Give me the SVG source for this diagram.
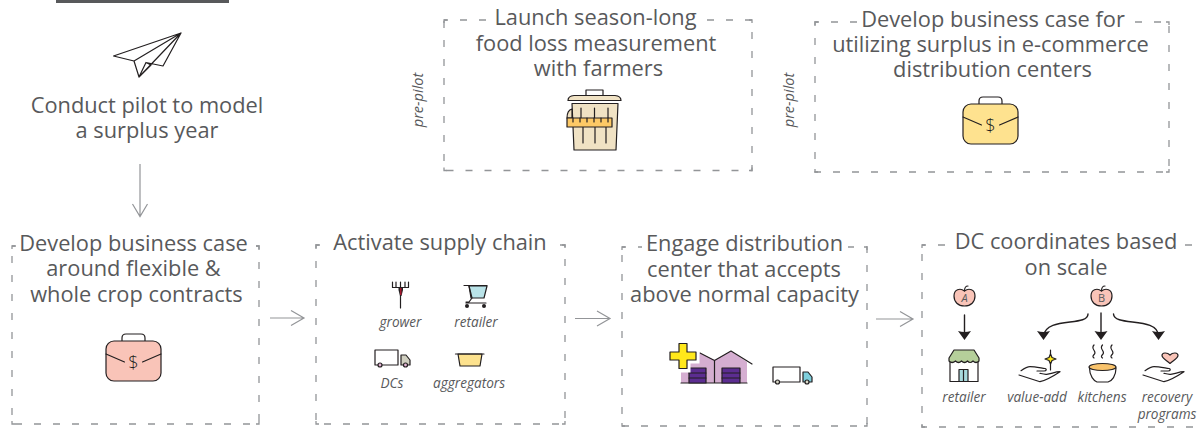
<svg xmlns="http://www.w3.org/2000/svg" width="1204" height="429" viewBox="0 0 1204 429">
<style>
text{font-family:"Open Sans","Noto Sans","DejaVu Sans",sans-serif;fill:#58595b}
.t{font-size:21.8px;text-anchor:middle}
.i{font-size:13.6px;font-style:italic;text-anchor:middle}
.p{font-size:14.5px;font-style:italic;text-anchor:middle}
.b{fill:none;stroke:#939598;stroke-width:1.3;stroke-dasharray:7 12;stroke-dashoffset:3}
.c{fill:none;stroke:#939598;stroke-width:1.3}
.m{fill:#fff}
.k{stroke:#231f20;stroke-width:1.2;stroke-linejoin:round;stroke-linecap:round}
.n{fill:none;stroke:#231f20;stroke-width:1.2;stroke-linejoin:round;stroke-linecap:round}
.g{fill:none;stroke:#939598;stroke-width:1.2}
.a{fill:none;stroke:#231f20;stroke-width:1.4;stroke-linecap:round}
.h{fill:#231f20}
</style>
<defs>
<g id="case">
<path class="n" d="M-11.500-18V-23Q-11.500-27-7.500-27H7.500Q11.500-27 11.500-23V-18"/>
<rect class="k" x="-27.500" y="-20" width="55" height="40" rx="8"/>
<path class="n" d="M-27.500-7L-9 1M27.500-7L9 1"/>
<text x="0" y="7.500" style="font-size:18px;font-weight:300;text-anchor:middle;fill:#231f20">$</text>
</g>
<g id="hand">
<path class="n" d="M2 6.700C6 4 9 2.700 11 2.700C16 2.700 22 4 26 4.500C28 5 27.500 7 25 7H18M0 11L21 17.700C28 16 36 11 41 7.700C36 7.700 32 10 27.700 10.300C25 10.500 23 9.800 21 9.300"/>
</g>
<g id="arrowh"><path class="h" d="M-6.500-6Q0-4 6.500-6L0 3Z"/></g>
</defs>

<rect id="top-bar" x="56" y="0" width="173" height="3" fill="#58595b"/>

<g id="pilot">
<path class="n" d="M113.500 56L181 33L163 66L146 62.500L139 77L134 61ZM134 61L181 33M139 77L181 33M146 62.500L151 65L139 77"/>
<text class="t" x="147" y="112.500">Conduct pilot to model</text>
<text class="t" x="147" y="137.500">a surplus year</text>
</g>

<g id="measure">
<rect class="b" x="444" y="20" width="308" height="150.500"/>
<path class="c" d="M444 23V20H447M749 20H752V23M752 167.500V170.500H749M447 170.500H444V167.500"/>
<rect class="m" x="488" y="8" width="219" height="18"/>
<text class="t" x="595.500" y="25">Launch season-long</text>
<text class="t" x="596" y="50.500">food loss measurement</text>
<text class="t" x="598.500" y="76">with farmers</text>
<g>
<rect class="k" x="586" y="90" width="17" height="6" fill="#fff"/>
<path class="k" fill="#f0e2c4" d="M568 100.500Q568 96 574 95.500H615Q621 96 621 100.500Z"/>
<path class="k" fill="#f0e2c4" d="M572 103.500H618L616 150H574Z"/>
<path class="n" d="M581 108V118M594.500 108V118M608 108V118M583 127V143M595 127V143M606 127V143"/>
<path class="k" fill="#f0e2c4" d="M572 109C568 110 567 113 567 118L572 118Z"/>
<rect class="k" x="567" y="118" width="45" height="9" fill="#fdc966" stroke-width="1"/>
<path class="n" d="M573 118V122M580 118V122M587 118V122M594 118V122M601 118V122M608 118V122"/>
</g>
</g>
<text class="p" transform="translate(423 100) rotate(-90)">pre-pilot</text>

<g id="ecommerce">
<rect class="b" x="815" y="22" width="354" height="150"/>
<path class="c" d="M815 25V22H818M1166 22H1169V25M1169 169V172H1166M818 172H815V169"/>
<rect class="m" x="858" y="8" width="270" height="20"/>
<text class="t" x="993" y="26.500">Develop business case for</text>
<text class="t" x="990.500" y="52">utilizing surplus in e-commerce</text>
<text class="t" x="992.500" y="77">distribution centers</text>
<use href="#case" x="990.500" y="124" fill="#fee28f"/>
</g>
<text class="p" transform="translate(794 100) rotate(-90)">pre-pilot</text>

<g id="contracts">
<rect class="b" x="12" y="246" width="247" height="178"/>
<path class="c" d="M12 249V246H15M256 246H259V249M259 421V424H256M15 424H12V421"/>
<rect class="m" x="17" y="236" width="235" height="14"/>
<text class="t" x="133.500" y="250.500">Develop business case</text>
<text class="t" x="133.500" y="276">around flexible &amp;</text>
<text class="t" x="136.500" y="301.500">whole crop contracts</text>
<use href="#case" x="133.500" y="361" fill="#f9c4b8"/>
</g>

<g id="supply">
<rect class="b" x="316" y="245" width="249" height="179"/>
<path class="c" d="M316 248V245H319M562 245H565V248M565 421V424H562M319 424H316V421"/>
<rect class="m" x="322" y="235" width="238" height="16"/>
<text class="t" x="440" y="250">Activate supply chain</text>
<g>
<path class="n" d="M392.500 282V287.500H408.500V282M396 282V287.500M400.500 282V287.500M405 282V287.500M400.500 292V308"/>
<path fill="#231f20" d="M398.500 287.500H403V290L401.500 296H400L398.500 290Z"/>
<path fill="#a6192e" d="M400 288H401.500V295H400Z"/>
</g>
<text class="i" x="400.500" y="326.500">grower</text>
<g>
<path class="k" fill="#b9e3e8" d="M469 286H487L484 298H471Z"/>
<path class="n" d="M464 285.500H487M469 286L472 298L469 302H466M466 303H486"/>
<circle class="h" cx="467" cy="306" r="2"/><circle class="h" cx="484" cy="306" r="2"/>
</g>
<text class="i" x="476" y="326.500">retailer</text>
<g>
<path class="k" fill="#fff" d="M375 350H398V365H375Z"/>
<path class="k" fill="#d0cfc0" d="M401 355H406L410 360V365H401Z"/>
<circle class="k" fill="#e4b4d4" cx="380" cy="365" r="2"/><circle class="k" fill="#e4b4d4" cx="405.500" cy="365" r="2"/>
</g>
<text class="i" x="392" y="388">DCs</text>
<g>
<path class="k" fill="#fde28e" d="M458 354H482L480 366H460Z"/>
<path class="n" d="M455.500 354H484"/>
</g>
<text class="i" x="469" y="388">aggregators</text>
</g>

<g id="engage">
<rect class="b" x="622" y="247" width="245" height="179"/>
<path class="c" d="M622 250V247H625M864 247H867V250M867 423V426H864M625 426H622V423"/>
<rect class="m" x="642" y="235" width="206" height="20"/>
<text class="t" x="744.500" y="251">Engage distribution</text>
<text class="t" x="744" y="276.500">center that accepts</text>
<text class="t" x="744.500" y="302">above normal capacity</text>
<path fill="#d5aed1" d="M681 383V366L700 353L714.500 360L731 351L747 362V383Z"/>
<path class="n" d="M700 353L714.500 360.500L731 351L752 364M714.500 360.500V383M681 383H747"/>
<rect class="k" x="689" y="368" width="17" height="15" fill="#5c2d91"/>
<path class="n" d="M689 373H706M689 378H706"/>
<rect class="k" x="722" y="368" width="18" height="15" fill="#5c2d91"/>
<path class="n" d="M722 373H740M722 378H740"/>
<path fill="#fff" stroke="#fff" stroke-width="7" d="M679 343H687V352H696V360H687V369H679V360H670V352H679Z"/>
<path class="k" fill="#ffe81a" d="M679 343.500H687V352H696V360H687V368.500H679V360H670V352H679Z"/>
<path class="k" fill="#fff" d="M773 367H800V382H773Z"/>
<path class="k" fill="#7fcfdc" d="M803 372H808L812 377V382H803Z"/>
<circle class="k" fill="#d9d9c8" cx="777.500" cy="382" r="2"/><circle class="k" fill="#d9d9c8" cx="807" cy="382" r="2"/>
</g>

<g id="coordinates">
<rect class="b" x="922" y="245" width="290" height="182"/>
<path class="c" d="M922 248V245H925M925 427H922V424"/>
<rect class="m" x="950" y="235" width="234" height="20"/>
<text class="t" x="1066" y="249">DC coordinates based</text>
<text class="t" x="1066" y="274.500">on scale</text>

<path class="k" fill="#f9c4b8" d="M964.500 291C960 287.500 954 289.500 954 296C954 302 958 306 964.500 306C971 306 975 302 975 296C975 289.500 969 287.500 964.500 291Z"/>
<path class="n" d="M964.500 291C964.500 288 965 286 968 286"/>
<text x="964.500" y="302" style="font-size:11px;font-style:italic;text-anchor:middle">A</text>
<path class="k" fill="#f9c4b8" d="M1101.500 291C1097 287.500 1091 289.500 1091 296C1091 302 1095 306 1101.500 306C1108 306 1112 302 1112 296C1112 289.500 1106 287.500 1101.500 291Z"/>
<path class="n" d="M1101.500 291C1101.500 288 1102 286 1105 286"/>
<text x="1101.500" y="302" style="font-size:11px;text-anchor:middle">B</text>

<g id="store">
<path class="k" fill="#fff" d="M950 358H978V381.500H950Z"/>
<rect class="k" x="959" y="369.500" width="9" height="12" fill="#a8dadc"/>
<path class="n" d="M963.500 369.500V381.500"/>
<path class="k" fill="#b5cf9a" d="M954 350H974L979 358V361Q976 364 973 361Q970 364 967.500 361Q964.500 364 961.500 361Q958.500 364 955.500 361Q952 364 949 361V358Z"/>
</g>
<text class="i" x="964" y="402">retailer</text>

<g id="sparkle">
<use href="#hand" x="1019" y="364"/>
<path class="n" d="M1050.500 350V370"/>
<path class="k" fill="#ffe81a" d="M1050.500 354L1052 357.500L1056 359L1052 360.500L1050.500 364L1049 360.500L1045 359L1049 357.500Z" stroke-width="1"/>
</g>
<text class="i" x="1037" y="402">value-add</text>

<g id="bowl">
<path class="n" d="M1094 345C1090 349 1097 351 1094.500 354C1092.500 356 1092.500 357 1094 358M1102.500 345C1098.500 349 1105.500 351 1103 354C1101 356 1101 357 1102.500 358M1112 345C1108 349 1115 351 1112.500 354C1110.500 356 1110.500 357 1112 358"/>
<path class="k" fill="#fff" d="M1089.500 368C1089.500 376 1094 381 1097 382H1108C1112 381 1116 376 1116 368Z"/>
<ellipse class="k" cx="1102.500" cy="367" rx="13.500" ry="3.500" fill="#f9c36b"/>
</g>
<text class="i" x="1102" y="402">kitchens</text>

<g id="heart">
<use href="#hand" x="1143" y="364"/>
<path class="k" fill="#f9c4b8" d="M1170 363.500C1166 360 1162 358 1162 355.500C1162 352.500 1167 352 1170 355C1173 352 1178 352.500 1178 355.500C1178 358 1174 360 1170 363.500Z" stroke-width="1"/>
</g>
<text class="i" x="1167" y="402">recovery</text>
<text class="i" x="1167" y="419">programs</text>
</g>

<g id="connectors">
<path class="g" d="M140 164V216.500M132.500 204L140 216.500L147.500 204"/>
<path class="g" d="M270 318H304M291 310.500L304 318L291 325.500"/>
<path class="g" d="M575 318.500H610M597 311L610 318.500L597 326"/>
<path class="g" d="M876 319H913M900 311.500L913 319L900 326.500"/>
<path class="a" d="M964.500 315V336"/><use href="#arrowh" x="964.500" y="337"/>
<path class="a" d="M1101 313V336"/><use href="#arrowh" x="1101" y="337"/>
<path class="a" d="M1088 314C1088 327 1046 316 1043.500 336"/><use href="#arrowh" x="1043.500" y="337"/>
<path class="a" d="M1113.500 314C1114 327 1158 316 1158.500 336"/><use href="#arrowh" x="1158.500" y="337"/>
</g>
</svg>
